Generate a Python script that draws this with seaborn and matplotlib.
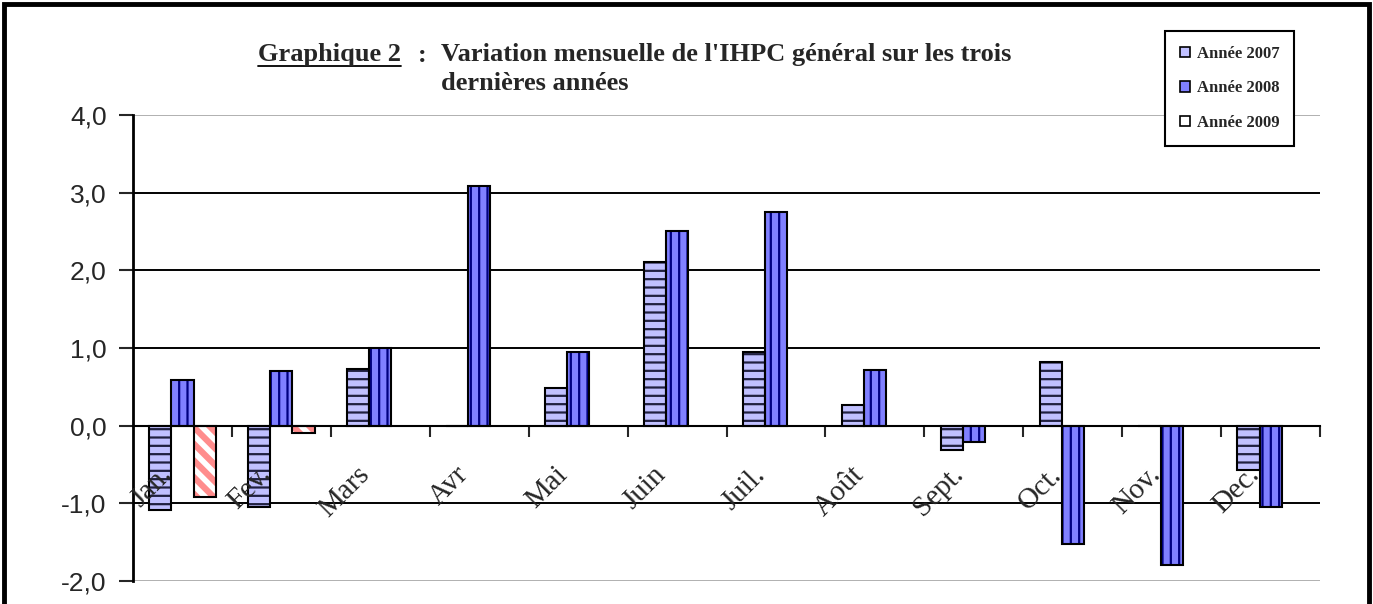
import matplotlib
matplotlib.use("Agg")
import matplotlib.pyplot as plt
from matplotlib.patches import Patch, Rectangle
from matplotlib.lines import Line2D
from matplotlib.ticker import FuncFormatter
import numpy as np
import pandas as pd
import seaborn as sns

# data
months = ["Jan.", "Fev.", "Mars", "Avr", "Mai", "Juin", "Juil.", "Août",
          "Sept.", "Oct.", "Nov.", "Dec."]
years = ["Année 2007", "Année 2008", "Année 2009"]
values_2007 = [-1.08, -1.05, 0.73, 0.0, 0.49, 2.11, 0.95, 0.26, -0.31, 0.82, 0.0, -0.57]
values_2008 = [0.59, 0.70, 1.00, 3.08, 0.95, 2.50, 2.75, 0.72, -0.21, -1.52, -1.80, -1.05]
months_2009 = ["Jan.", "Fev."]
values_2009 = [-0.92, -0.10]
y_ticks = [-2, -1, 0, 1, 2, 3, 4]

serif = ["Liberation Serif", "DejaVu Serif"]
sans = ["Liberation Sans", "DejaVu Sans"]

sns.set_style("white")
plt.rcParams["font.family"] = sans
plt.rcParams["hatch.linewidth"] = 1.6

df = pd.concat(
    [
        pd.DataFrame({"mois": months, "variation": values_2007, "annee": years[0]}),
        pd.DataFrame({"mois": months, "variation": values_2008, "annee": years[1]}),
        pd.DataFrame({"mois": months_2009, "variation": values_2009, "annee": years[2]}),
    ],
    ignore_index=True,
)

faces = {years[0]: "#C0C0FF", years[1]: "#8080FF", years[2]: "#FFFFFF"}
hatch_colors = {years[0]: "#202040", years[1]: "#000080", years[2]: "#FF8C8C"}
hatches = {years[0]: "--", years[1]: "||", years[2]: "\\\\"}

fig = plt.figure(figsize=(13.73, 6.04), dpi=100)
ax = fig.add_axes([0.0969, 0.0381, 0.8645, 0.7715])

sns.barplot(
    data=df, x="mois", y="variation", hue="annee",
    order=months, hue_order=years, palette=faces,
    width=0.67, errorbar=None, saturation=1, legend=False, ax=ax,
)

for container, year in zip(ax.containers, years):
    for p in container.patches:
        p.set_facecolor(faces[year])
        p.set_edgecolor(hatch_colors[year])
        p.set_hatch(hatches[year])
        p.set_linewidth(0)
        if year == years[2] and hasattr(p, "set_hatch_linewidth"):
            p.set_hatch_linewidth(4.5)
        ax.add_patch(Rectangle((p.get_x(), p.get_y()), p.get_width(), p.get_height(),
                               fill=False, edgecolor="black", linewidth=1.5, zorder=p.get_zorder() + 0.1))

ax.set_xlim(-0.5, len(months) - 0.5)
ax.set_ylim(-2, 4)
ax.set_yticks(y_ticks)
ax.yaxis.set_major_formatter(FuncFormatter(lambda v, _: f"{v:.1f}".replace(".", ",")))
ax.tick_params(axis="y", direction="out", length=10, width=1.5, labelsize=19, pad=9, left=True)
ax.set_xticks(np.arange(0.5, len(months), 1))
ax.set_xticklabels([])
ax.tick_params(axis="x", direction="out", length=8, width=1.5, bottom=True)
ax.set_xlabel("")
ax.set_ylabel("")

ax.set_axisbelow(True)
ax.yaxis.grid(True, color="black", linewidth=1.4)
for line, t in zip(ax.get_ygridlines(), y_ticks):
    if t in (y_ticks[0], y_ticks[-1]):
        line.set_color("#b0b0b0")

ax.spines["bottom"].set_position(("data", 0))
ax.spines["bottom"].set_linewidth(1.5)
ax.spines["bottom"].set_color("black")
ax.spines["left"].set_linewidth(2)
ax.spines["left"].set_color("black")
ax.spines["top"].set_visible(False)
ax.spines["right"].set_visible(False)

# month names sit on top of the bars, like in the original
for i, m in enumerate(months):
    ax.text(i - 0.15, -0.58, m, rotation=45, ha="right", va="center",
            rotation_mode="anchor", fontsize=21, family=serif, zorder=10)

# title
title_size = 19
t1 = fig.text(258 / 1373, 1 - 55 / 604, "Graphique 2", fontsize=title_size,
              fontweight="bold", family=serif, va="center", ha="left")
fig.text(418 / 1373, 1 - 55 / 604, ":", fontsize=title_size, fontweight="bold",
         family=serif, va="center", ha="left")
fig.text(441 / 1373, 1 - 55 / 604, "Variation mensuelle de l'IHPC général sur les trois",
         fontsize=title_size, fontweight="bold", family=serif, va="center", ha="left")
fig.text(441 / 1373, 1 - 83 / 604, "dernières années", fontsize=title_size,
         fontweight="bold", family=serif, va="center", ha="left")

# legend
handles = [Patch(facecolor=faces[y], edgecolor="black", linewidth=1.2) for y in years]
leg = fig.legend(
    handles, years, loc="upper left", bbox_to_anchor=(1165 / 1373, 1 - 31 / 604),
    frameon=True, fancybox=False, edgecolor="black", framealpha=1,
    prop={"family": serif, "weight": "bold", "size": 12},
    handlelength=0.6, handleheight=0.6, handletextpad=0.4,
    labelspacing=1.1, borderpad=0.9, borderaxespad=0,
)
leg.get_frame().set_linewidth(1.5)

# outer frame
fig.patches.append(Rectangle((0.003, -0.1), 0.994, 1.093, transform=fig.transFigure,
                             fill=False, edgecolor="black", linewidth=3.5))

# underline "Graphique 2"
fig.canvas.draw()
bb = t1.get_window_extent(fig.canvas.get_renderer())
inv = fig.transFigure.inverted()
(x0, y0), (x1, _) = inv.transform([(bb.x0, bb.y0 + 1), (bb.x1, bb.y0 + 1)])
fig.lines.append(Line2D([x0, x1], [y0, y0], transform=fig.transFigure,
                        color="black", linewidth=1.3))

fig.savefig("out.png", dpi=100)
